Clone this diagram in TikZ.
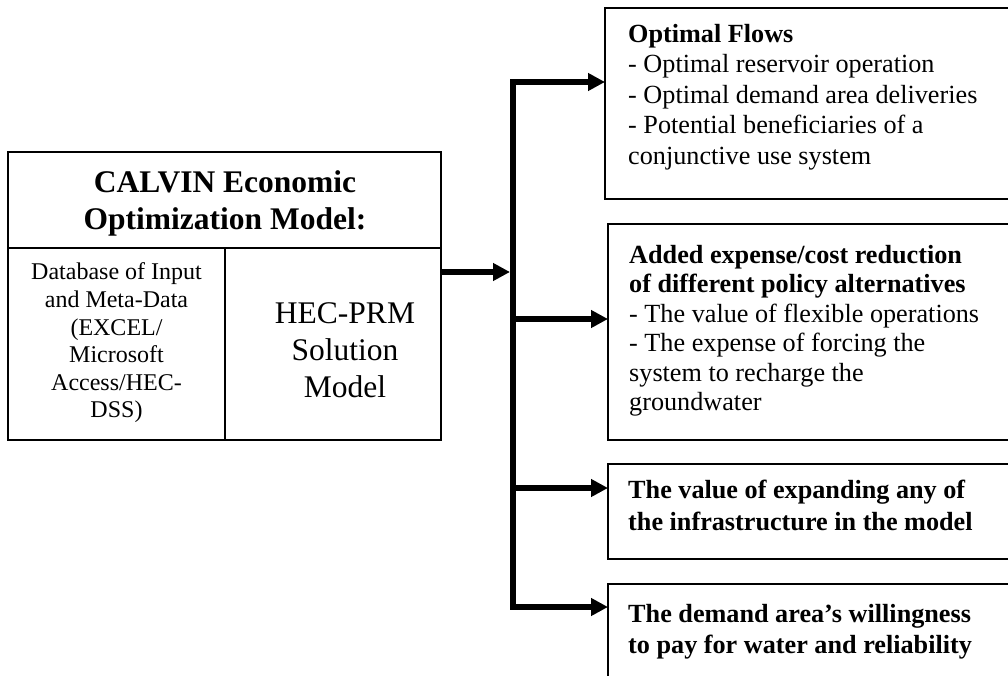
\documentclass[tikz,border=0pt]{standalone}
\usepackage{fontspec}
\setmainfont{Liberation Serif}
\usetikzlibrary{arrows.meta}
\begin{document}
\begin{tikzpicture}[x=1pt,y=-1pt,
  box/.style={draw, line width=1.8pt, inner sep=0pt, outer sep=0pt, anchor=north west},
  arr/.style={line width=6pt, -{Triangle[length=17pt,width=17pt]}},
  rtext/.style={font=\fontsize{26.2}{30.5}\selectfont, align=left, inner sep=0pt, anchor=north west},
  rbold/.style={font=\bfseries\fontsize{26.2}{31.5}\selectfont, align=left, inner sep=0pt, anchor=north west}]
\useasboundingbox (0,0) rectangle (1008,676);
\clip (0,0) rectangle (1008,676);
% left composite box
\node[box, minimum width=433pt, minimum height=96pt] (T) at (8,152) {};
\node[box, minimum width=217pt, minimum height=192pt] (D) at (8,248) {};
\node[box, minimum width=216pt, minimum height=192pt] (H) at (225,248) {};
\node[font=\bfseries\fontsize{31.5}{37}\selectfont, align=center, inner sep=0pt] (title) at (225,203) {CALVIN Economic\\Optimization Model:};
\node[font=\fontsize{24}{27.6}\selectfont, align=center, inner sep=0pt] (db) at (116.5,343) {Database of Input\\and Meta-Data\\(EXCEL/\\Microsoft\\Access/HEC-\\DSS)};
\node[font=\fontsize{31.5}{37}\selectfont, align=center, inner sep=0pt] (hec) at (345,350) {HEC-PRM\\Solution\\Model};
% right boxes
\node[box, minimum width=420pt, minimum height=191pt] (b1) at (605,8) {};
\node[box, minimum width=420pt, minimum height=216pt] (b2) at (608,224) {};
\node[box, minimum width=420pt, minimum height=95pt] (b3) at (608,464) {};
\node[box, minimum width=420pt, minimum height=120pt] (b4) at (608,584) {};
\node[rtext] (t1txt) at (628,24) {\textbf{Optimal Flows}\\- Optimal reservoir operation\\- Optimal demand area deliveries\\- Potential beneficiaries of a\\conjunctive use system};
\node[rtext, font=\fontsize{26.2}{29.5}\selectfont] (t2txt) at (629,245) {\textbf{Added expense/cost reduction}\\\textbf{of different policy alternatives}\\- The value of flexible operations\\- The expense of forcing the\\system to recharge the\\groundwater};
\node[rbold] (t3txt) at (628,480) {The value of expanding any of\\the infrastructure in the model};
\node[rbold] (t4txt) at (628,604) {The demand area’s willingness\\to pay for water and reliability};
% connectors
\coordinate (j0) at (510,272);
\coordinate (j1) at (513,82);
\coordinate (j2) at (513,319);
\coordinate (j3) at (513,488);
\coordinate (j4) at (513,607);
\draw[arr] (H.east |- j0) -- (j0);
\draw[arr] (j4) -- (j1) -- (j1 -| b1.west);
\draw[arr] (j1) -- (j4) -- (j4 -| b4.west);
\draw[arr] (j2) -- (j2 -| b2.west);
\draw[arr] (j3) -- (j3 -| b3.west);
\end{tikzpicture}
\end{document}
